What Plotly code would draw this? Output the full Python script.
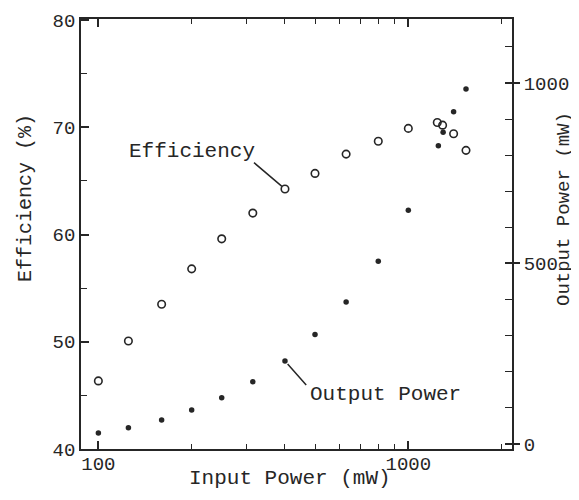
import math
import plotly.graph_objects as go

# Input power (mW) for the efficiency series (open circles)
eff_x = [100, 125, 160, 200, 250, 315, 400, 500, 630, 800, 1000, 1240, 1290, 1400, 1535]
eff_y = [46.35, 50.07, 53.5, 56.8, 59.6, 62.0, 64.25, 65.7, 67.5, 68.7, 69.9, 70.45, 70.2, 69.4, 67.85]

# Input power (mW) for the output-power series (filled dots)
pow_x = [100, 125, 160, 200, 250, 315, 400, 500, 630, 800, 1000, 1250, 1295, 1400, 1535]
pow_y = [30, 45, 66, 94, 128, 172, 230, 303, 393, 506, 647, 826, 863, 920, 983]

x_tick_vals = [100, 1000]
x_tick_text = ["100", "1000"]
x_minor_vals = [200, 300, 400, 500, 600, 700, 800, 900, 2000]
y_tick_vals = [40, 50, 60, 70, 80]
y2_tick_vals = [0, 500, 1000]

FONT = "Liberation Mono, Courier New, monospace"
INK = "#262626"

# page body has an 8px margin; plot area wanted at x 81..512, y 19..449 of the window
OFF = 8
L, R, T, B = 81, 512, 19, 449
W, H = 579, 500

fig = go.Figure()
fig.add_trace(go.Scatter(
    x=eff_x, y=eff_y, mode="markers", name="Efficiency",
    marker=dict(symbol="circle-open", size=7.5, color=INK, line=dict(width=1.6, color=INK)),
    yaxis="y"))
fig.add_trace(go.Scatter(
    x=pow_x, y=pow_y, mode="markers", name="Output Power",
    marker=dict(symbol="circle", size=5.5, color=INK),
    yaxis="y2"))

fig.update_layout(
    template="none",
    width=W, height=H,
    margin=dict(l=L - OFF, r=W + OFF - R, t=T - OFF, b=H + OFF - B, autoexpand=False),
    paper_bgcolor="white", plot_bgcolor="white",
    showlegend=False,
    font=dict(family=FONT, color=INK, size=19),
    xaxis=dict(
        type="log", range=[1.944, 3.3345], automargin=False,
        tickvals=x_tick_vals, ticktext=x_tick_text,
        ticks="inside", ticklen=8, tickwidth=1.5, tickcolor=INK,
        minor=dict(tickvals=x_minor_vals, ticks="inside", ticklen=5, tickwidth=1.3, tickcolor=INK),
        showline=True, linecolor=INK, linewidth=1.8, mirror="ticks",
        showgrid=False, zeroline=False, ticklabelstandoff=-4,
        tickfont=dict(size=19, family=FONT, color=INK),
    ),
    yaxis=dict(
        range=[40, 80.1], automargin=False,
        tickvals=y_tick_vals,
        ticks="inside", ticklen=8, tickwidth=1.5, tickcolor=INK,
        minor=dict(dtick=5, ticks="inside", ticklen=6, tickwidth=1.3, tickcolor=INK),
        showline=True, linecolor=INK, linewidth=1.8,
        showgrid=False, zeroline=False,
        tickfont=dict(size=19, family=FONT, color=INK),
    ),
    yaxis2=dict(
        range=[-14, 1177], overlaying="y", side="right", automargin=False,
        tickvals=y2_tick_vals,
        ticks="outside", ticklen=6, tickwidth=1.5, tickcolor=INK,
        minor=dict(dtick=100, ticks="inside", ticklen=7, tickwidth=1.3, tickcolor=INK),
        showline=True, linecolor=INK, linewidth=1.8,
        showgrid=False, zeroline=False,
        tickfont=dict(size=19, family=FONT, color=INK),
    ),
    yaxis3=dict(
        range=[-14, 1177], overlaying="y", side="right", automargin=False,
        tickvals=y2_tick_vals, showticklabels=False,
        ticks="inside", ticklen=7, tickwidth=1.5, tickcolor=INK,
        showline=False, showgrid=False, zeroline=False,
    ),
)

# invisible trace to activate yaxis3
fig.add_trace(go.Scatter(x=[eff_x[0]], y=[pow_y[0]], yaxis="y3", mode="markers",
                         marker=dict(opacity=0), hoverinfo="skip"))

# leader lines (annotation x on a log axis is given as log10)
fig.add_annotation(x=math.log10(eff_x[6]), y=eff_y[6], xref="x", yref="y", text=" ",
                   font=dict(size=1), showarrow=True, arrowhead=0, arrowwidth=1.5,
                   arrowcolor=INK, ax=-33, ay=-28, standoff=4)
fig.add_annotation(x=math.log10(pow_x[6]), y=pow_y[6], xref="x", yref="y2", text=" ",
                   font=dict(size=1), showarrow=True, arrowhead=0, arrowwidth=1.5,
                   arrowcolor=INK, ax=23, ay=26, standoff=4)

# labels
fig.add_annotation(x=math.log10(200), y=67.7, xref="x", yref="y", text="Efficiency",
                   showarrow=False, xanchor="center", yanchor="middle",
                   font=dict(size=21, family=FONT, color=INK))
fig.add_annotation(x=math.log10(847), y=45.1, xref="x", yref="y", text="Output Power",
                   showarrow=False, xanchor="center", yanchor="middle",
                   font=dict(size=21, family=FONT, color=INK))

def px(xv):
    return (xv - L) / (R - L)

def py(yv):
    return (B - yv) / (B - T)

# axis titles
fig.add_annotation(x=px(290), y=py(478), xref="paper", yref="paper",
                   text="Input Power (mW)", showarrow=False,
                   xanchor="center", yanchor="middle",
                   font=dict(size=21, family=FONT, color=INK))
fig.add_annotation(x=px(25), y=py(198), xref="paper", yref="paper",
                   text="Efficiency (%)", showarrow=False, textangle=-90,
                   xanchor="center", yanchor="middle",
                   font=dict(size=20, family=FONT, color=INK))
fig.add_annotation(x=px(564), y=py(209), xref="paper", yref="paper",
                   text="Output Power (mW)", showarrow=False, textangle=-90,
                   xanchor="center", yanchor="middle",
                   font=dict(size=19, family=FONT, color=INK))

fig.write_html("out.html")
